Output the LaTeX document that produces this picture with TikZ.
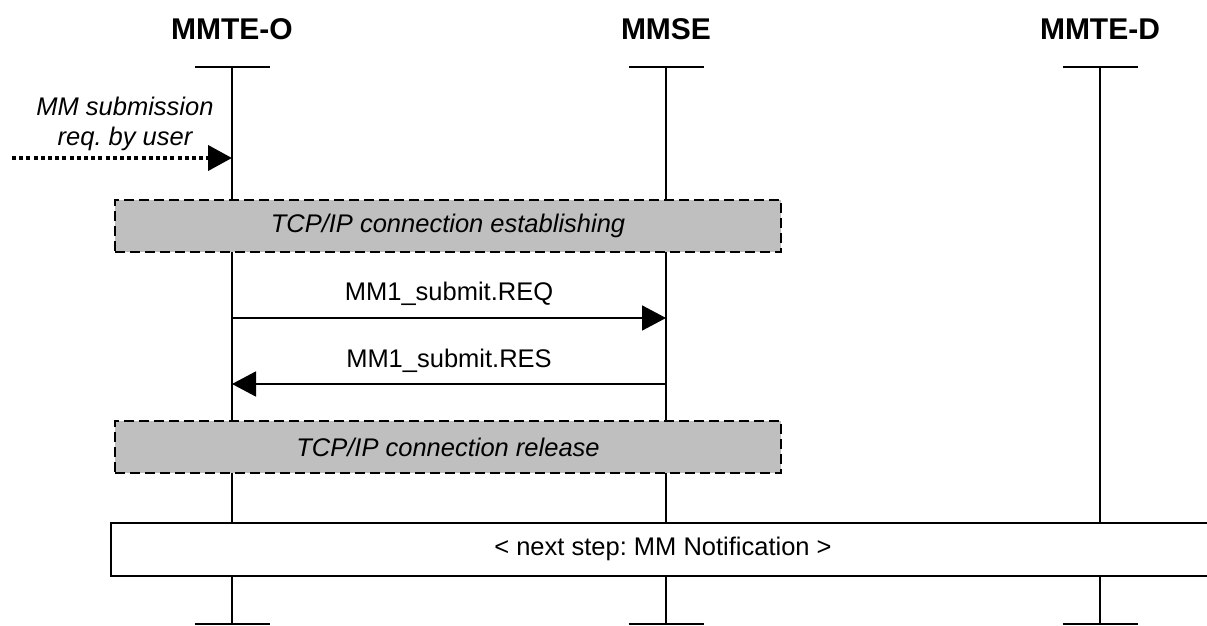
\documentclass[tikz,border=0pt]{standalone}
\usepackage{fontspec}
\setmainfont{Liberation Sans}
\usetikzlibrary{arrows.meta,positioning}
\frenchspacing

\begin{document}
\begin{tikzpicture}[x=0.5pt,y=-0.5pt,
		ent/.style={font=\fontsize{15}{18}\selectfont\bfseries},
		msg/.style={font=\fontsize{12.75}{14}\selectfont},
		proc/.style={draw,dash pattern=on 5pt off 2.5pt,line width=0.7pt,fill=black!25,minimum width=333pt,minimum height=26pt,font=\fontsize{12.75}{14}\selectfont\itshape},
		step box/.style={draw,line width=1pt,fill=white,minimum width=552pt,minimum height=26.5pt,font=\fontsize{12.75}{14}\selectfont},
		com/.style={-{Triangle[length=12pt,width=12.5pt]},line width=0.9pt},
		life/.style={line width=1pt}]
	\useasboundingbox (0,0) rectangle (1207,626);

	% entities with their lifelines
	\foreach \x/\n/\t in {232/o/MMTE-O,666/s/MMSE,1100/d/MMTE-D}{
		\node[ent] (\n) at (\x,29) {\t};
		\coordinate (\n-top) at (\x,67);
		\coordinate (\n-bot) at (\x,624);
		\draw[life] (\n-top) -- (\n-bot);
		\draw[life] ([xshift=-18.75pt]\n-top) -- ([xshift=18.75pt]\n-top);
		\draw[life] ([xshift=-18.75pt]\n-bot) -- ([xshift=18.75pt]\n-bot);
	}

	% trigger by user
	\node[msg,font=\fontsize{12.75}{15}\selectfont\itshape,align=center] (trig) at (125,124) {MM submission\\req. by user};
	\coordinate (user) at (12,158);
	\coordinate (o-user) at (232,158);
	\draw[com,line width=2pt,dash pattern=on 2pt off 1.6pt] (user) -- (o-user);

	\node[proc] (est) at (448,226) {TCP/IP connection establishing};

	\coordinate (o-req) at (232,318);
	\coordinate (s-req) at (666,318);
	\draw[com] (o-req) -- (s-req);
	\node[msg] (reqlbl) at (449,294) {MM1\_submit.REQ};

	\coordinate (s-res) at (666,384);
	\coordinate (o-res) at (232,384);
	\draw[com] (s-res) -- (o-res);
	\node[msg] (reslbl) at (449,361) {MM1\_submit.RES};

	\node[proc] (rel) at (448,447) {TCP/IP connection release};

	\node[step box] (next) at (663,549) {< next step: MM Notification >};
\end{tikzpicture}
\end{document}
